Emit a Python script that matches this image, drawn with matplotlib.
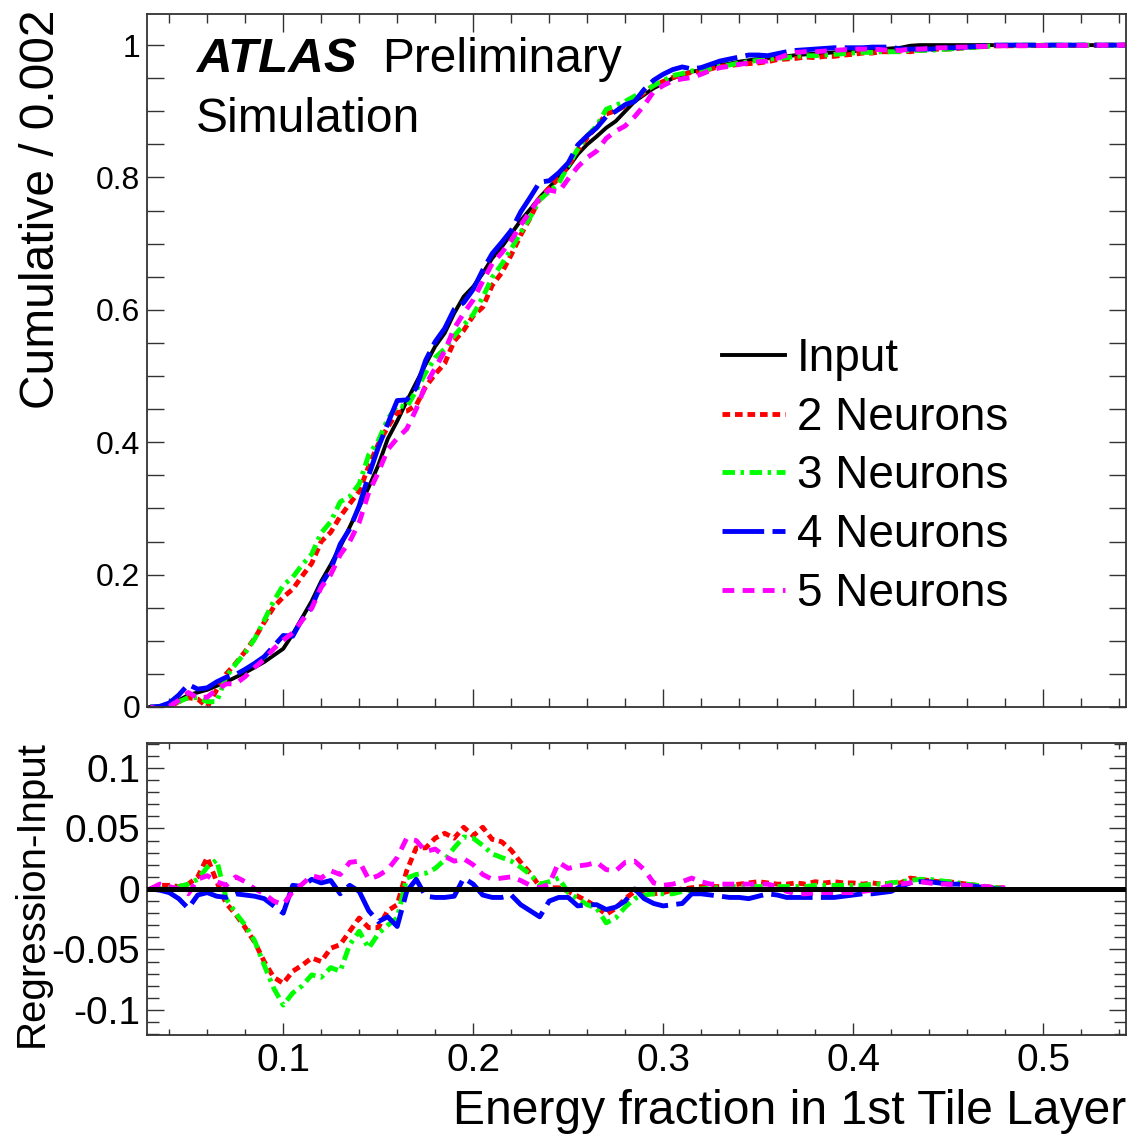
import numpy as np
import matplotlib
matplotlib.use("Agg")
import matplotlib.pyplot as plt
from matplotlib.ticker import MultipleLocator, FuncFormatter

plt.rcParams['font.family'] = ['Liberation Sans', 'DejaVu Sans']
plt.rcParams['axes.unicode_minus'] = False
plt.rcParams['lines.scale_dashes'] = False

# sampling grid (bin centres read every 0.005) + tail at the axis end
energy = np.round(np.arange(0.030, 0.4801, 0.005), 3)
energy_tail = 0.545

# cumulative of the input distribution
cum_input = [
    0.000, 0.000, 0.003, 0.010, 0.018, 0.022, 0.026, 0.032, 0.038, 0.045,
    0.052, 0.060, 0.068, 0.078, 0.088, 0.110, 0.135, 0.160, 0.190, 0.215,
    0.242, 0.272, 0.302, 0.332, 0.365, 0.405, 0.432, 0.462, 0.490, 0.518,
    0.545, 0.565, 0.595, 0.620, 0.635, 0.655, 0.678, 0.695, 0.715, 0.735,
    0.752, 0.770, 0.785, 0.800, 0.815, 0.835, 0.850, 0.862, 0.875, 0.885,
    0.900, 0.915, 0.925, 0.935, 0.942, 0.950, 0.955, 0.960, 0.962, 0.966,
    0.970, 0.972, 0.975, 0.977, 0.979, 0.980, 0.982, 0.983, 0.985, 0.986,
    0.987, 0.988, 0.989, 0.990, 0.991, 0.992, 0.993, 0.994, 0.995, 0.996,
    0.999, 1.000, 1.000, 1.000, 1.000, 1.000, 1.000, 1.000, 1.000, 1.000,
    1.000,
]

# residuals shown in the lower panel
res_2n = [
    0.000, 0.003, 0.003, 0.002, 0.004, 0.010, 0.026, 0.006, -0.012, -0.021,
    -0.032, -0.044, -0.060, -0.073, -0.078, -0.068, -0.063, -0.057, -0.060, -0.049,
    -0.046, -0.035, -0.024, -0.032, -0.032, -0.018, -0.013, 0.015, 0.034, 0.034,
    0.042, 0.046, 0.042, 0.051, 0.044, 0.051, 0.041, 0.039, 0.032, 0.022,
    0.013, 0.002, 0.001, 0.001, -0.002, -0.006, -0.010, -0.015, -0.021, -0.016,
    -0.008, -0.002, -0.003, -0.004, -0.003, -0.001, 0.000, 0.001, 0.002, 0.002,
    0.002, 0.003, 0.004, 0.005, 0.006, 0.005, 0.004, 0.004, 0.005, 0.004,
    0.006, 0.005, 0.006, 0.005, 0.005, 0.004, 0.005, 0.004, 0.005, 0.005,
    0.009, 0.008, 0.007, 0.006, 0.006, 0.005, 0.004, 0.003, 0.002, 0.001,
    0.001,
]
res_3n = [
    0.000, 0.000, 0.001, 0.002, 0.004, 0.008, 0.018, 0.024, -0.008, -0.020,
    -0.030, -0.043, -0.063, -0.082, -0.096, -0.086, -0.080, -0.071, -0.073, -0.065,
    -0.068, -0.046, -0.035, -0.049, -0.037, -0.030, -0.024, 0.009, 0.012, 0.013,
    0.017, 0.024, 0.034, 0.043, 0.042, 0.036, 0.029, 0.026, 0.023, 0.018,
    0.012, 0.004, 0.006, 0.009, -0.003, -0.008, -0.013, -0.016, -0.028, -0.024,
    -0.015, -0.008, -0.005, -0.004, -0.004, -0.004, -0.002, -0.001, 0.000, 0.001,
    0.001, 0.002, 0.002, 0.002, 0.002, 0.002, 0.002, 0.002, 0.002, 0.002,
    0.003, 0.003, 0.003, 0.003, 0.003, 0.003, 0.004, 0.004, 0.005, 0.006,
    0.007, 0.008, 0.008, 0.007, 0.006, 0.005, 0.004, 0.003, 0.002, 0.001,
    0.000,
]
res_4n = [
    0.000, -0.001, -0.003, -0.008, -0.016, -0.005, -0.003, -0.006, -0.007, -0.004,
    -0.005, -0.006, -0.008, -0.014, -0.020, 0.003, 0.002, 0.008, 0.005, 0.007,
    -0.004, 0.003, -0.002, -0.018, -0.027, -0.023, -0.031, -0.002, 0.008, -0.006,
    -0.007, -0.007, -0.006, 0.009, 0.004, -0.005, -0.007, -0.007, -0.005, -0.013,
    -0.018, -0.023, -0.010, -0.007, -0.007, -0.014, -0.013, -0.013, -0.017, -0.015,
    -0.010, 0.000, -0.008, -0.012, -0.014, -0.013, -0.012, -0.004, -0.004, -0.005,
    -0.006, -0.007, -0.007, -0.008, -0.006, -0.004, -0.005, -0.007, -0.007, -0.007,
    -0.007, -0.007, -0.007, -0.006, -0.005, -0.004, -0.004, -0.003, -0.002, 0.002,
    0.005, 0.006, 0.006, 0.005, 0.004, 0.004, 0.003, 0.002, 0.001, 0.000,
    0.000,
]
res_5n = [
    0.000, 0.004, 0.002, 0.000, -0.004, 0.008, 0.011, 0.006, 0.003, 0.010,
    0.006, 0.000, -0.004, -0.010, -0.013, -0.002, 0.004, 0.011, 0.009, 0.015,
    0.012, 0.022, 0.023, 0.008, 0.011, 0.016, 0.026, 0.042, 0.040, 0.031,
    0.033, 0.027, 0.023, 0.025, 0.020, 0.012, 0.008, 0.009, 0.010, 0.007,
    0.003, 0.001, 0.004, 0.022, 0.017, 0.019, 0.020, 0.022, 0.016, 0.015,
    0.022, 0.023, 0.016, 0.005, 0.003, 0.004, 0.006, 0.009, 0.006, 0.004,
    0.004, 0.004, 0.004, 0.004, 0.004, 0.004, 0.002, -0.002, -0.004, -0.004,
    -0.003, -0.003, -0.003, -0.003, -0.003, -0.002, -0.001, 0.001, 0.003, 0.004,
    0.005, 0.006, 0.005, 0.004, 0.004, 0.003, 0.003, 0.002, 0.002, 0.001,
    0.001,
]

labels = ['Input', '2 Neurons', '3 Neurons', '4 Neurons', '5 Neurons']
colors = ['black', '#ff0000', '#00ff00', '#0000ff', '#ff00ff']
styles = ['-', (0, (5.5, 3.5)), (0, (9, 4, 2.5, 4)), (0, (30, 6)), (0, (8.5, 6))]
widths = [2.8, 3.5, 3.5, 3.5, 3.5]

W, H = 1130, 1139
fig = plt.figure(figsize=(W / 100, H / 100), dpi=100)
ax = fig.add_axes([147 / W, 1 - 707 / H, (1126 - 147) / W, (707 - 14) / H])
axr = fig.add_axes([147 / W, 1 - 1035 / H, (1126 - 147) / W, (1035 - 742.7) / H])

x_full = np.append(energy, energy_tail)
inp = np.array(cum_input)
residuals = [np.array(r) for r in (res_2n, res_3n, res_4n, res_5n)]

# --- upper panel: cumulative distributions ---
ax.plot(x_full, np.append(inp, 1.0), color=colors[0], ls=styles[0],
        lw=widths[0], label=labels[0])
for k, res in enumerate(residuals):
    reg = inp - res
    ax.plot(x_full, np.append(reg, 1.0), color=colors[k + 1], ls=styles[k + 1],
            lw=widths[k + 1], label=labels[k + 1])

xmin, xmax = 0.0283, 0.5436
ax.set_xlim(xmin, xmax)
ax.set_ylim(0, 1.047)
ax.xaxis.set_major_locator(MultipleLocator(0.1))
ax.xaxis.set_minor_locator(MultipleLocator(0.02))
ax.yaxis.set_major_locator(MultipleLocator(0.2))
ax.yaxis.set_minor_locator(MultipleLocator(0.05))
ax.yaxis.set_major_formatter(FuncFormatter(lambda v, p: '%g' % round(v, 3)))
ax.tick_params(axis='both', which='both', direction='in', top=True, right=True,
               width=1, color='#333333')
ax.tick_params(axis='x', which='major', length=13, labelbottom=False)
ax.tick_params(axis='x', which='minor', length=6.5)
ax.tick_params(axis='y', which='both', length=12, labelsize=23, pad=5)

leg = ax.legend(loc='upper left', bbox_to_anchor=(722 / W, 1 - 337 / H),
                bbox_transform=fig.transFigure, frameon=False, fontsize=33,
                handlelength=1.37, handletextpad=0.26, labelspacing=0.32,
                borderpad=0, borderaxespad=0)

fig.text(196 / W, 1 - 59 / H, 'ATLAS', fontsize=35.5, fontweight='bold',
         fontstyle='italic', va='center', ha='left')
fig.text(382 / W, 1 - 59 / H, 'Preliminary', fontsize=34.5, va='center', ha='left')
fig.text(196 / W, 1 - 119 / H, 'Simulation', fontsize=34.5, va='center', ha='left')

# --- lower panel: residuals ---
for k, res in enumerate(residuals):
    axr.plot(energy, res, color=colors[k + 1], ls=styles[k + 1], lw=widths[k + 1])
axr.axhline(0, color='black', lw=3.6, zorder=5)

axr.set_xlim(xmin, xmax)
axr.set_ylim(-0.1207, 0.1209)
axr.xaxis.set_major_locator(MultipleLocator(0.1))
axr.xaxis.set_minor_locator(MultipleLocator(0.02))
axr.yaxis.set_major_locator(MultipleLocator(0.05))
axr.yaxis.set_minor_locator(MultipleLocator(0.01))
fmt = FuncFormatter(lambda v, p: '%g' % round(v, 3))
axr.xaxis.set_major_formatter(fmt)
axr.yaxis.set_major_formatter(fmt)
axr.tick_params(axis='both', which='both', direction='in', top=True, right=True,
                width=1, color='#333333', labelsize=28)
axr.tick_params(axis='x', which='major', length=8.5, pad=6)
axr.tick_params(axis='x', which='minor', length=4.2)
axr.tick_params(axis='y', which='major', length=12, pad=5)
axr.tick_params(axis='y', which='minor', length=8.5)

for a in (ax, axr):
    for s in a.spines.values():
        s.set_linewidth(1.3)
        s.set_color('#333333')

fig.text(42 / W, 1 - 10 / H, 'Cumulative / 0.002', fontsize=34.5, rotation=90,
         ha='center', va='top')
fig.text(32 / W, 1 - 740 / H, 'Regression-Input', fontsize=29, rotation=90,
         ha='center', va='top')
fig.text(1126 / W, 1 - 1112 / H, 'Energy fraction in 1st Tile Layer', fontsize=34.6,
         ha='right', va='center')

fig.savefig('out.png', dpi=100)
